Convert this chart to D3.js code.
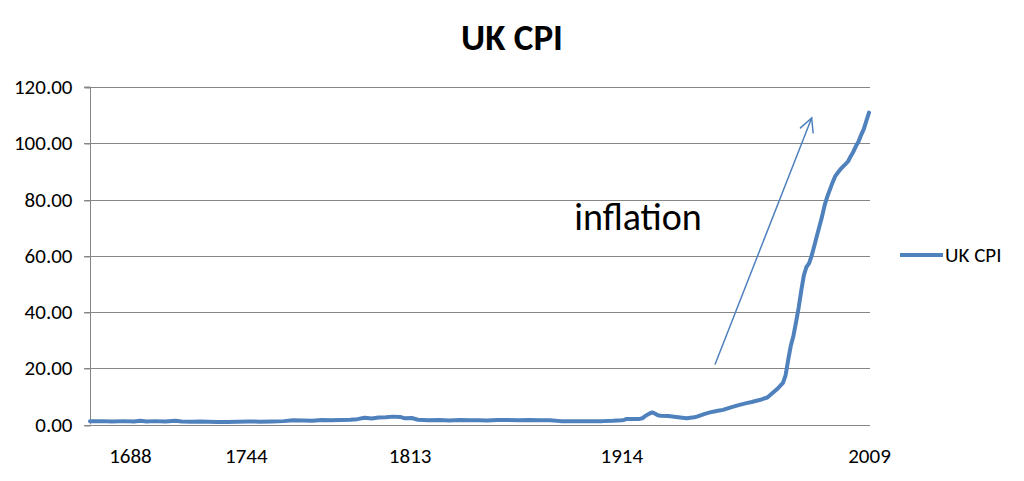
<!DOCTYPE html>
<html>
<head>
<meta charset="utf-8">
<script src="https://cdn.jsdelivr.net/npm/d3@7"></script>
<style>
  html, body { margin: 0; padding: 0; background: #fff; }
  svg { display: block; }
  text { font-family: Carlito, Calibri, Lato, "Open Sans", sans-serif; fill: #000; }
</style>
</head>
<body>
<svg id="chart" width="1024" height="481"></svg>
<script>
// ---- Data ----
const title = "UK CPI";
const seriesName = "UK CPI";
const years = [
  1670,1675,1680,1685,1690,1693,1696,1700,1705,1710,1713,1718,1722,1726,1730,1735,1740,
  1745,1750,1755,1760,1764,1768,1772,1776,1780,1784,1788,1791,1794,1797,1800,1803,1806,
  1809,1811,1814,1817,1822,1827,1832,1837,1842,1846,1850,1855,1860,1865,1870,1875,1880,
  1885,1890,1895,1900,1905,1910,1914,1915,1916,1919,1921,1922,1923,1924,1925,1926,1927,
  1928,1929,1932,1935,1939,1942,1943,1946,1948,1951,1953,1956,1959,1962,1964,1967,1970,
  1972,1974,1975,1976,1977,1978,1979,1980,1981,1982,1983,1984,1985,1986,1987,1988,1989,
  1990,1991,1992,1993,1994,1995,1996,1997,1998,1999,2000,2001,2002,2003,2004,2005,2006,
  2007,2008,2009
];
const cpi = [
  1.2,1.2,1.1,1.2,1.1,1.3,1.1,1.2,1.1,1.3,1.1,1.0,1.1,1.0,0.9,0.9,1.0,
  1.1,1.0,1.1,1.2,1.5,1.4,1.3,1.6,1.5,1.6,1.7,1.9,2.4,2.1,2.5,2.6,2.8,
  2.7,2.2,2.3,1.7,1.5,1.6,1.4,1.6,1.5,1.5,1.4,1.6,1.6,1.5,1.6,1.5,1.5,
  1.2,1.2,1.2,1.2,1.2,1.3,1.5,1.6,2.0,2.0,2.0,2.2,2.9,3.5,4.0,4.3,3.8,
  3.3,3.1,3.0,2.7,2.2,2.6,2.8,3.8,4.3,4.9,5.2,6.1,6.9,7.6,8.0,8.7,9.6,
  11.2,12.8,13.8,14.8,17.5,23.0,28.0,31.5,36.3,41.5,47.5,53.0,56.0,57.3,60.0,63.5,67.0,
  70.5,74.0,78.0,81.0,83.5,86.0,88.2,89.5,90.7,91.7,92.6,93.6,95.4,97.0,99.0,100.6,103.0,
  105.0,108.0,110.9
];
const xTickYears = [1688, 1744, 1813, 1914, 2009];
const yTicks = [0, 20, 40, 60, 80, 100, 120];
// category-axis anchor years (label positions are uneven on the original category axis)
const axisAnchorYears = [1670, 1688, 1744, 1813, 1914, 2009];
const anchorFractions = [0, 0.0513, 0.2, 0.4103, 0.6821, 1.0];
// annotation (in data units)
const arrowFrom = { year: 1950, value: 21.5 };
const arrowTo = { year: 1987, value: 109 };
const annotationText = { year: 1891.5, value: 69.2, label: "inflation" };

// ---- Layout ----
const svg = d3.select("#chart");
const plot = { left: 90, right: 870, top: 87, bottom: 424.5 };
const blue = "#4F81BD";
const gridColor = "#868686";
const axisFont = 21;

const x = d3.scaleLinear()
  .domain(axisAnchorYears)
  .range(anchorFractions.map(f => plot.left + f * (plot.right - plot.left - 1)));
const y = d3.scaleLinear().domain([0, 120]).range([plot.bottom, plot.top]);

// gridlines
svg.append("g")
  .selectAll("line").data(yTicks.filter(d => d > 0)).join("line")
  .attr("x1", plot.left - 6).attr("x2", plot.right)
  .attr("y1", d => Math.round(y(d)) + 0.5).attr("y2", d => Math.round(y(d)) + 0.5)
  .attr("stroke", gridColor).attr("stroke-width", 1);

// y axis
const yAxis = d3.axisLeft(y).tickValues(yTicks).tickSize(6).tickPadding(12)
  .tickFormat(d => d.toFixed(2));
const gy = svg.append("g").attr("transform", `translate(${plot.left + 0.5},0)`).call(yAxis);
gy.select(".domain").attr("stroke", gridColor).attr("d", `M-6,${y(120)}H0V${y(0)}`);
gy.selectAll(".tick line").attr("stroke", gridColor)
  .attr("transform", d => `translate(0,${Math.round(y(d)) + 0.5 - y(d)})`);
gy.selectAll(".tick text").attr("font-size", axisFont).attr("fill", "#000")
  .style("font-family", "Carlito, Calibri, Lato, sans-serif");

// x axis
const xAxis = d3.axisBottom(x).tickValues(xTickYears).tickSize(0).tickPadding(22.5)
  .tickFormat(d => String(d));
const gx = svg.append("g").attr("transform", `translate(0,${Math.round(plot.bottom) + 0.5})`).call(xAxis);
gx.select(".domain").attr("stroke", gridColor).attr("d", `M${plot.left - 6},0H${plot.right}`);
gx.selectAll(".tick text").attr("font-size", axisFont).attr("fill", "#000")
  .style("font-family", "Carlito, Calibri, Lato, sans-serif");

// series line
const line = d3.line().x((d, i) => x(years[i])).y(d => y(d)).curve(d3.curveLinear);
svg.append("path").datum(cpi)
  .attr("d", line)
  .attr("fill", "none").attr("stroke", blue).attr("stroke-width", 4)
  .attr("stroke-linejoin", "round").attr("stroke-linecap", "round");

// title
svg.append("text").attr("x", 512).attr("y", 50).attr("text-anchor", "middle")
  .attr("font-size", 37).attr("font-weight", "bold").text(title);

// annotation text
svg.append("text").attr("x", x(annotationText.year)).attr("y", y(annotationText.value))
  .attr("font-size", 38).text(annotationText.label);

// annotation arrow
const ax1 = x(arrowFrom.year), ay1 = y(arrowFrom.value);
const ax2 = x(arrowTo.year), ay2 = y(arrowTo.value);
const ang = Math.atan2(ay2 - ay1, ax2 - ax1);
const headLen = 15, headAng = 27 * Math.PI / 180;
const arrow = svg.append("g").attr("stroke", blue).attr("stroke-width", 1.5).attr("fill", "none")
  .attr("stroke-linecap", "round");
arrow.append("line").attr("x1", ax1).attr("y1", ay1).attr("x2", ax2).attr("y2", ay2);
arrow.append("path").attr("d",
  `M${ax2 - headLen * Math.cos(ang - headAng)},${ay2 - headLen * Math.sin(ang - headAng)}` +
  `L${ax2},${ay2}` +
  `L${ax2 - headLen * Math.cos(ang + headAng)},${ay2 - headLen * Math.sin(ang + headAng)}`);

// legend
const lg = svg.append("g").attr("transform", "translate(900,255)");
lg.append("line").attr("x1", 0).attr("x2", 43).attr("y1", 0).attr("y2", 0)
  .attr("stroke", blue).attr("stroke-width", 4);
lg.append("text").attr("x", 45).attr("y", 7).attr("font-size", 21).text(seriesName);
</script>
</body>
</html>
